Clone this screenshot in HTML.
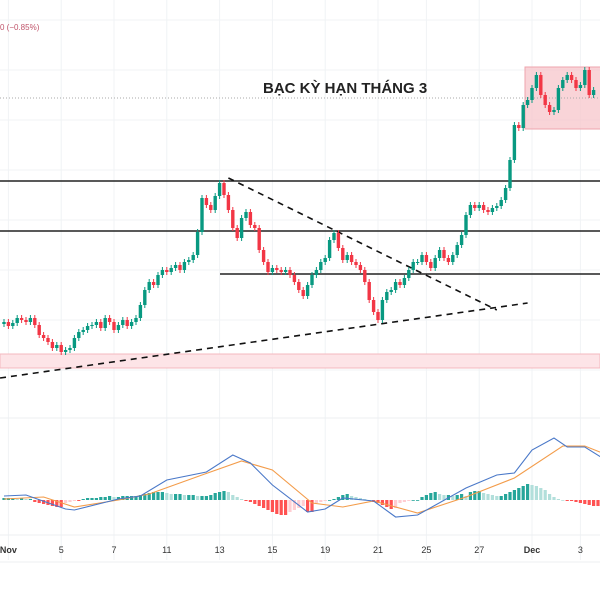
<!DOCTYPE html>
<html><head><meta charset="utf-8"><style>
html,body{margin:0;padding:0;background:#fff;width:600px;height:600px;overflow:hidden;font-family:"Liberation Sans","Noto Sans CJK SC",sans-serif}
</style></head><body>
<svg id="chart" width="600" height="600" viewBox="0 0 600 600" xmlns="http://www.w3.org/2000/svg">
<g id="grid"></g>
<rect x="0" y="354" width="600" height="14" fill="#fde4e7" stroke="#f4b9bf" stroke-width="1"/>
<rect x="525" y="67" width="80" height="62" fill="#f7c5cb" fill-opacity="0.75" stroke="#eea5ae" stroke-width="1"/>
<line x1="0" y1="98" x2="600" y2="98" stroke="#aaa" stroke-width="1" stroke-dasharray="1,2"/>
<text x="0" y="30" font-size="8" fill="#c0546a">0 (−0.85%)</text>
<text x="263" y="93" font-size="15" font-weight="bold" fill="#222">BẠC KỲ HẠN THÁNG 3</text>
<g id="lines"></g>
<g id="candles"></g>
<g id="macd"></g>
<g id="xaxis"></g>
</svg>
<script>
// candle closes (price units), one per bar
const closes=[78,74,77,82,80,78,82,75,65,62, 58,52,55,48,50,52,62,68,70,74, 75,78,72,82,78,70,75,80,74,78, 82,95,110,118,115,125,130,128,132,135, 130,138,140,145,168,202,195,190,204,217, 205,190,172,162,182,188,175,172,150,138, 128,132,130,128,130,125,118,110,104,115, 125,130,138,142,160,167,152,140,145,138, 135,130,118,100,88,80,100,108,110,118, 115,122,130,138,138,145,138,132,142,150, 142,138,145,155,165,185,195,192,195,190, 188,192,194,200,212,240,275,272,295,300, 312,325,305,295,288,290,312,320,325,320, 312,315,330,305,310];
// levels
const hLevels=[219,169,126];
const hLevelStart=[0,0,220];
// trendlines: [barIndexStart, priceStart, barIndexEnd, priceEnd]
const trendLower=[-0.9,22,119,97];
const trendUpper=[51,222,112,90];
// MACD (bar index, value)
const macdIdx=[0,5,14,16,26,31,37,46,52,56,61,69,73,77,84,89,94,105,112,116,120,125,128,132,136];
const macdVal=[4,5,-9,-10,1,4,20,28,45,37,15,-12,-9,2,-1,-17,-15,12,25,27,50,62,53,53,42];
const sigIdx=[0,9,16,26,33,45,54,61,70,77,84,94,105,116,127,132,136];
const sigVal=[1,3,-7,0,6,25,39,30,-3,-7,-1,-13,3,22,54,54,47];
const hist=[2,2,2,1,2,1,1,-2,-3,-4,-5,-6,-7,-7,-3,-2,-1,-1,1,2,2,2,3,3,4,3,3,4,4,4,4,5,6,7,8,8,8,7,6,6,6,5,5,5,4,4,4,5,7,8,9,8,5,3,1,-1,-2,-4,-6,-8,-10,-12,-14,-15,-15,-12,-10,-8,-6,-12,-12,-3,-2,-1,0,1,3,5,6,4,3,2,1,0,-2,-3,-5,-7,-9,-8,-3,-2,-1,0,0,3,5,7,8,6,5,5,4,5,6,4,8,9,9,7,6,5,4,4,6,8,10,12,14,16,15,14,12,10,6,3,1,0,-1,-1,-2,-3,-4,-5,-6,-6];
const tickLabels=["Nov","5","7","11","13","15","19","21","25","27","Dec","3"];
const tickIdx=[1,13,25,37,49,61,73,85,96,108,120,131];

const NS="http://www.w3.org/2000/svg";
const xS=i=>4+i*4.4;
const yS=p=>400-p;
const mY=v=>500-v;
function mk(tag,attrs,parent){const e=document.createElementNS(NS,tag);for(const k in attrs)e.setAttribute(k,attrs[k]);parent.appendChild(e);return e;}
const grid=document.getElementById('grid');
for(let k=0;k<tickIdx.length;k++){const l=mk('line',{x1:xS(tickIdx[k]),x2:xS(tickIdx[k]),y1:0,y2:560,stroke:'#f0f3f5'},grid);}
for(let y=20;y<420;y+=50){const l=mk('line',{x1:0,x2:600,y1:y,y2:y,stroke:'#f0f3f5'},grid);}
mk('line',{x1:0,x2:600,y1:418,y2:418,stroke:'#eceff2'},grid);
mk('line',{x1:0,x2:600,y1:535,y2:535,stroke:'#eceff2'},grid);
mk('line',{x1:0,x2:600,y1:562,y2:562,stroke:'#eceff2'},grid);
const lines=document.getElementById('lines');
for(let k=0;k<hLevels.length;k++){const l=mk('line',{x1:hLevelStart[k],x2:600,y1:yS(hLevels[k]),y2:yS(hLevels[k]),stroke:'#222','stroke-width':1.6},lines);}
for(const t of [trendLower,trendUpper]){const l=mk('line',{x1:xS(t[0]),y1:yS(t[1]),x2:xS(t[2]),y2:yS(t[3]),stroke:'#111','stroke-width':1.6,'stroke-dasharray':'6,5'},lines);}
const cg=document.getElementById('candles');
for(let i=0;i<closes.length;i++){
 const o=i?closes[i-1]:closes[0]-2,c=closes[i];const up=c>=o;const col=up?'#089981':'#f23645';
 const hi=Math.max(o,c)+3,lo=Math.min(o,c)-3;const x=xS(i);
 const w=mk('line',{x1:x,x2:x,y1:yS(hi),y2:yS(lo),stroke:col,'stroke-width':1},cg);
 
 
 const b=mk('rect',{x:x-1.7,y:yS(Math.max(o,c)),width:3.4,height:Math.max(1,Math.abs(c-o)),fill:col},cg);
 
 
}
const mg=document.getElementById('macd');
for(let i=0;i<hist.length;i++){
 const v=hist[i],prev=i?hist[i-1]:0;let col;
 if(v>=0)col=v>=prev?'#26a69a':'#b2dfdb';else col=v<=prev?'#ff5252':'#ffcdd2';
 const r=mk('rect',{x:xS(i)-1.6,y:Math.min(500,500-v),width:3.2,height:Math.max(0.8,Math.abs(v)),fill:col},mg);
 
 
}
function poly(idx,val,col,name){const p=mk('polyline',{points:idx.map((d,k)=>xS(d)+','+mY(val[k])).join(' '),fill:'none',stroke:col,'stroke-width':1.1},mg);}
poly(sigIdx,sigVal,'#f39c4a','signal-line');
poly(macdIdx,macdVal,'#4a78c8','macd-line');
const xa=document.getElementById('xaxis');
for(let k=0;k<tickLabels.length;k++){const t=mk('text',{x:xS(tickIdx[k]),y:553,'font-size':9,'text-anchor':'middle',fill:'#333','font-weight':(tickLabels[k]==='Nov'||tickLabels[k]==='Dec')?'bold':'normal'},xa);t.textContent=tickLabels[k];}
</script>
</body></html>
